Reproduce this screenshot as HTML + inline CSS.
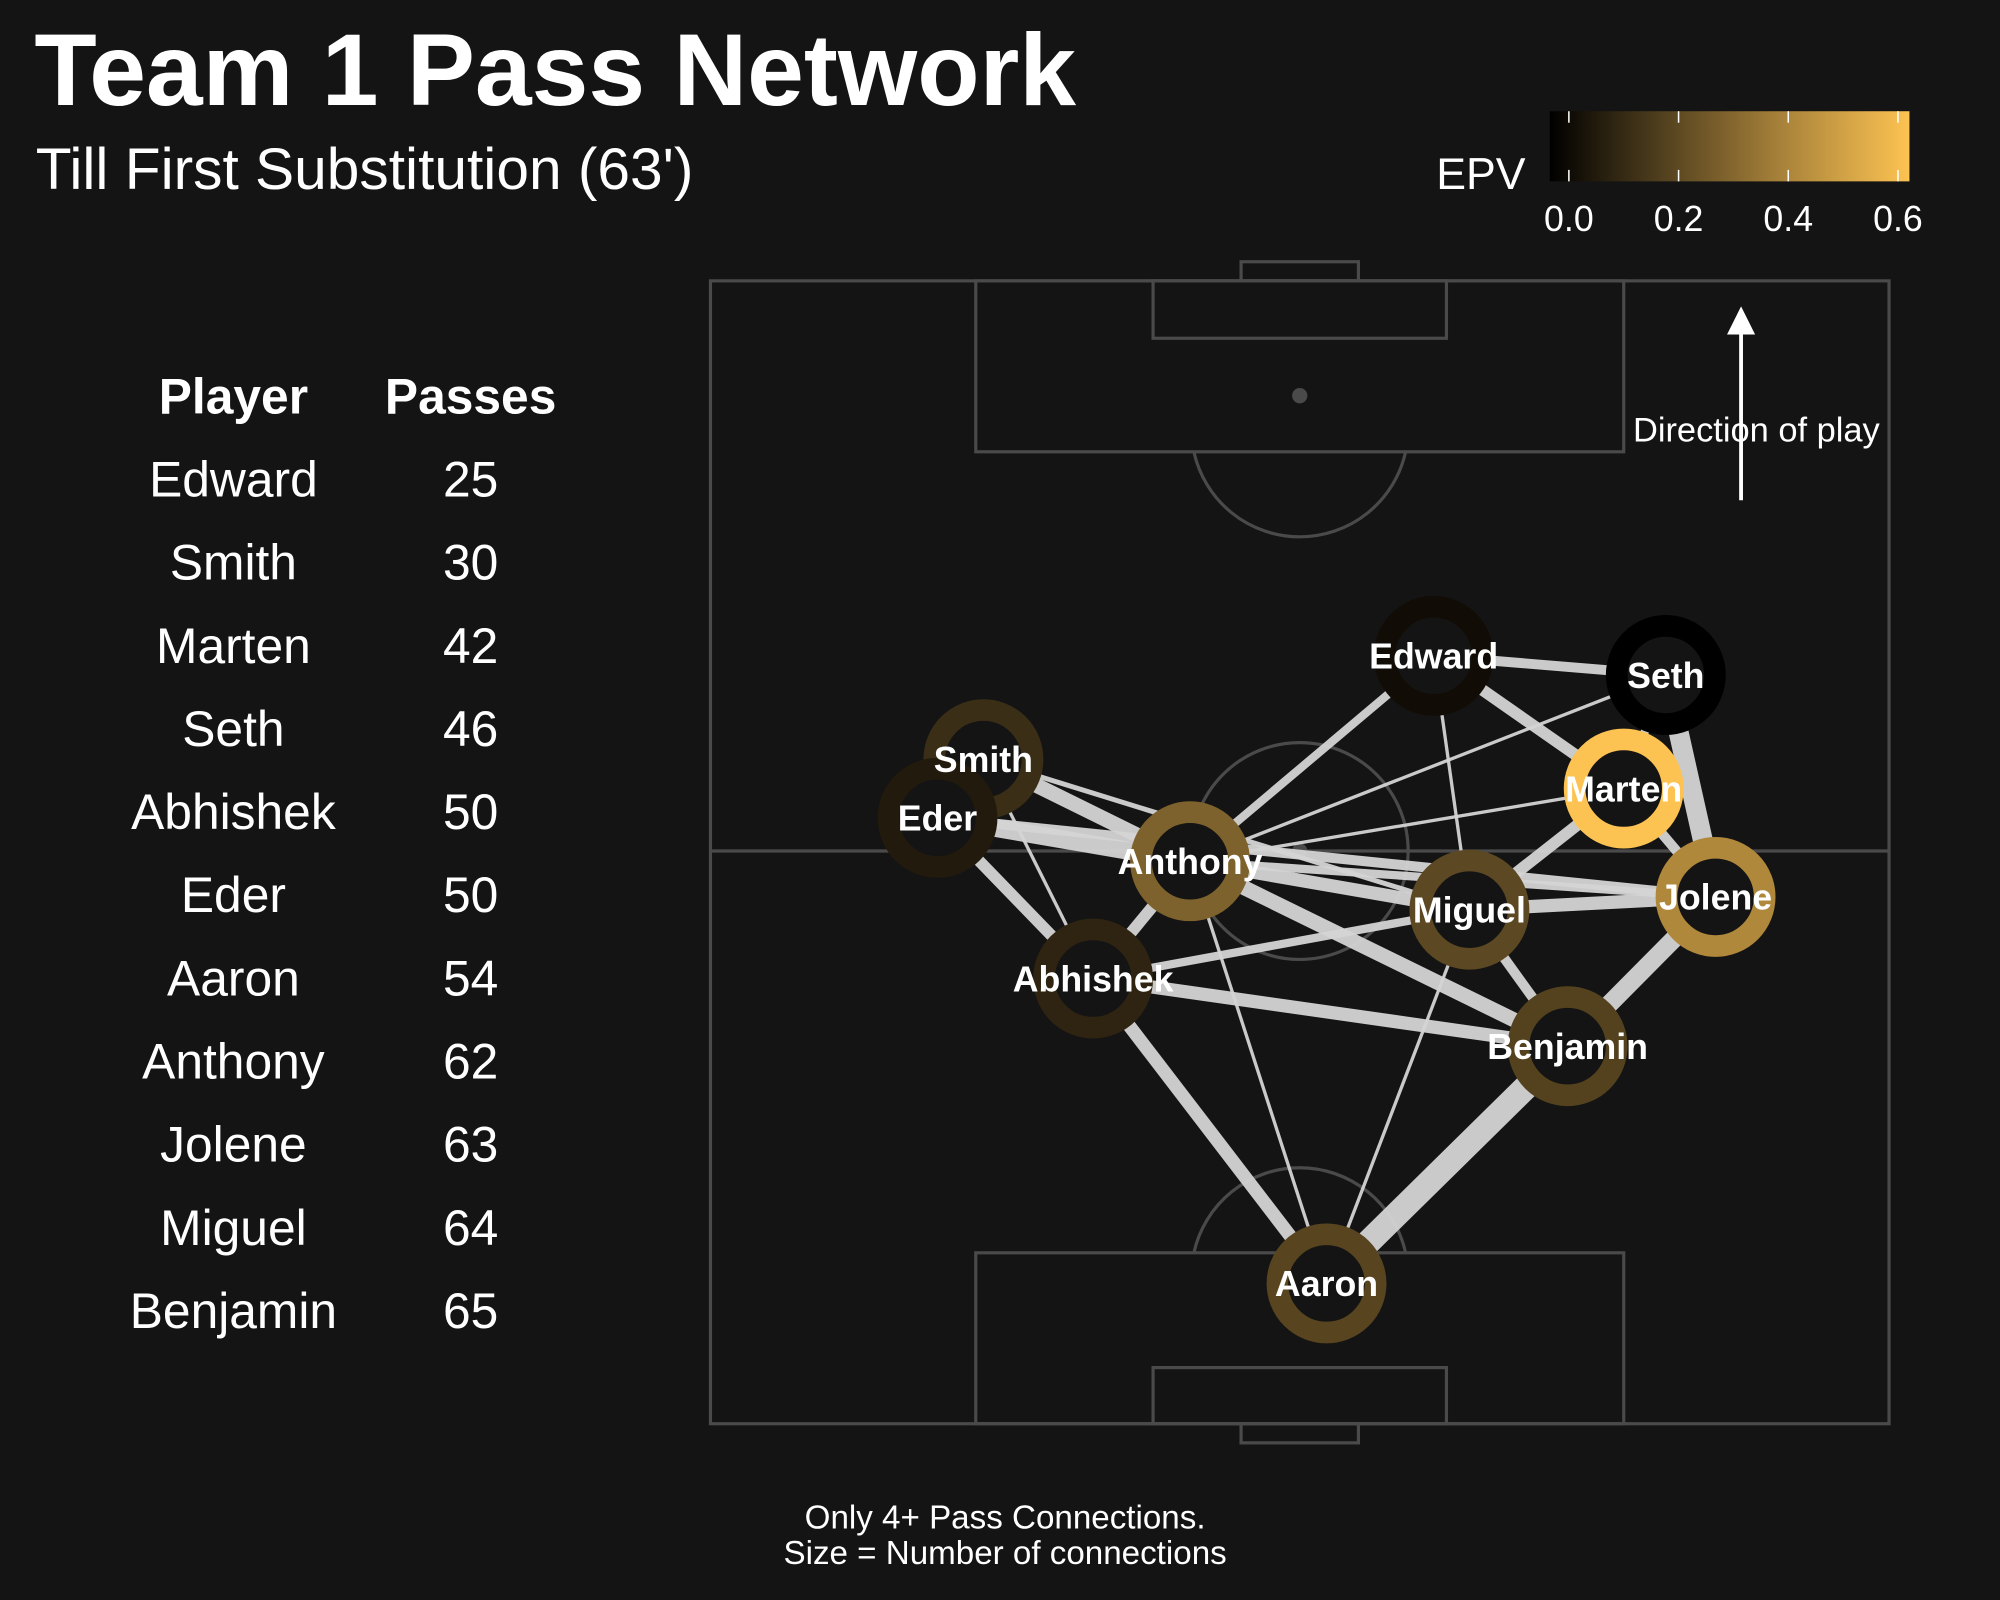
<!DOCTYPE html>
<html><head><meta charset="utf-8">
<style>
html,body{margin:0;padding:0;background:#141414;}
svg{display:block;font-family:"Liberation Sans",Arial,sans-serif;}
</style></head>
<body>
<svg id="chart" width="2000" height="1600" viewBox="0 0 1568 1254" xmlns="http://www.w3.org/2000/svg">
<defs>
<linearGradient id="cbar" x1="0" x2="1" y1="0" y2="0">
<stop offset="0" stop-color="#000000"/>
<stop offset="0.323" stop-color="#54421f"/>
<stop offset="0.645" stop-color="#a8823a"/>
<stop offset="1" stop-color="#fdc352"/>
</linearGradient>
</defs>
<rect width="1568" height="1254" fill="#141414"/>
<text x="27" y="82" fill="#fff" font-size="80" font-weight="bold">Team 1 Pass Network</text>
<text x="28" y="148" fill="#fff" font-size="46">Till First Substitution (63')</text>

<g>
<text x="1196" y="148" fill="#fff" font-size="35" text-anchor="end">EPV</text>
<rect x="1215" y="87" width="282" height="55" fill="url(#cbar)"/>
<g id="cticks"></g>
</g>

<g fill="none" stroke="#4a4a4a" stroke-width="2.5">
<rect x="557" y="220" width="924" height="896"/>
<line x1="557" y1="667" x2="1481" y2="667"/>
<circle cx="1019" cy="667" r="85"/>
<rect x="765" y="220" width="508" height="134"/>
<rect x="904" y="220" width="230" height="45"/>
<rect x="973" y="205" width="92" height="15"/>
<path d="M 936 354 A 85 85 0 0 0 1102 354"/>
<rect x="765" y="982" width="508" height="134"/>
<rect x="904" y="1072" width="230" height="44"/>
<rect x="973" y="1116" width="92" height="15"/>
<path d="M 936 982 A 85 85 0 0 1 1102 982"/>
<circle cx="1019" cy="310" r="6" fill="#4a4a4a" stroke="none"/>
<circle cx="1019" cy="667" r="6" fill="#4a4a4a" stroke="none"/>
</g>

<g>
<line x1="1365" y1="392" x2="1365" y2="258" stroke="#fff" stroke-width="3"/>
<polygon points="1354,262 1376,262 1365,240" fill="#fff"/>
<text x="1377" y="346" fill="#fff" font-size="27" text-anchor="middle">Direction of play</text>
</g>

<g id="edges"></g>
<g id="nodes"></g>

<g id="table">
<text x="183" y="324" fill="#fff" font-size="39" font-weight="bold" text-anchor="middle">Player</text>
<text x="369" y="324" fill="#fff" font-size="39" font-weight="bold" text-anchor="middle">Passes</text>
</g>

<text x="788" y="1198" fill="#fff" font-size="26" text-anchor="middle">Only 4+ Pass Connections.</text>
<text x="788" y="1226" fill="#fff" font-size="26" text-anchor="middle">Size = Number of connections</text>
</svg>
<script>
const players = ["Edward","Seth","Smith","Eder","Marten","Anthony","Miguel","Jolene","Abhishek","Benjamin","Aaron"];
const posX = [1124,1306,771,735,1273,933,1152,1345,857,1229,1040];
const posY = [514,529,595,641,618,675,713,703,767,820,1006];
const epv = [0.04,0.0,0.14,0.08,0.62,0.30,0.22,0.42,0.11,0.20,0.21];
const edgeFrom = ["Edward","Edward","Edward","Edward","Seth","Seth","Seth","Smith","Smith","Smith","Eder","Eder","Eder","Anthony","Anthony","Anthony","Anthony","Anthony","Anthony","Miguel","Miguel","Miguel","Miguel","Miguel","Abhishek","Abhishek","Benjamin","Benjamin","Marten"];
const edgeTo = ["Seth","Marten","Anthony","Miguel","Anthony","Jolene","Marten","Anthony","Abhishek","Miguel","Anthony","Abhishek","Jolene","Miguel","Benjamin","Abhishek","Aaron","Jolene","Marten","Marten","Jolene","Benjamin","Abhishek","Aaron","Benjamin","Aaron","Aaron","Jolene","Jolene"];
const edgeCount = [6,7,5,2,2,12,5,9,2,3,11,7,6,8,9,7,2,5,2,7,8,6,5,2,8,8,15,11,6];
const tableNames = ["Edward","Smith","Marten","Seth","Abhishek","Eder","Aaron","Anthony","Jolene","Miguel","Benjamin"];
const tablePasses = [25,30,42,46,50,50,54,62,63,64,65];
const cbTicks = [0.0,0.2,0.4,0.6];

const NS="http://www.w3.org/2000/svg";
const stops=[[0,[0,0,0]],[0.2,[84,66,31]],[0.4,[168,130,58]],[0.62,[253,195,82]]];
function cmap(v){
  for(let i=1;i<stops.length;i++){
    if(v<=stops[i][0]){const a=stops[i-1],b=stops[i];const t=(v-a[0])/(b[0]-a[0]);
      return "rgb("+a[1].map((c,k)=>Math.round(c+(b[1][k]-c)*t)).join(",")+")";}
  }
  return "rgb(253,195,82)";
}
const cbX=v=>1230+v*430;
const wScale=c=>c*1.3;
function mk(tag,attrs,parent){const e=document.createElementNS(NS,tag);for(const k in attrs)e.setAttribute(k,attrs[k]);parent.appendChild(e);return e;}

const ct=document.getElementById("cticks");
cbTicks.forEach(v=>{
  const l=mk("line",{x1:cbX(v),x2:cbX(v),y1:87,y2:96,stroke:"#fff","stroke-width":1.2},ct);
  
  
  const l2=mk("line",{x1:cbX(v),x2:cbX(v),y1:133,y2:142,stroke:"#fff","stroke-width":1.2},ct);
  
  
  const t=mk("text",{x:cbX(v),y:181,fill:"#fff","font-size":28,"text-anchor":"middle"},ct);
  t.textContent=v.toFixed(1);
  
  
});

const eg=document.getElementById("edges");
edgeFrom.forEach((f,i)=>{
  const a=players.indexOf(f),b=players.indexOf(edgeTo[i]);
  const l=mk("line",{x1:posX[a],y1:posY[a],x2:posX[b],y2:posY[b],stroke:"#d4d4d4","stroke-opacity":0.95,"stroke-width":wScale(edgeCount[i])},eg);
  
  
});
const ng=document.getElementById("nodes");
players.forEach((p,i)=>{
  const c=mk("circle",{cx:posX[i],cy:posY[i],r:38.5,fill:"#141414",stroke:cmap(epv[i]),"stroke-width":17},ng);
  
  
});
players.forEach((p,i)=>{
  const t=mk("text",{x:posX[i],y:posY[i]+10,fill:"#fff","font-size":28,"font-weight":"bold","text-anchor":"middle"},ng);
  t.textContent=p;
  
  
});
const tb=document.getElementById("table");
tableNames.forEach((n,i)=>{
  const y=389+i*65.2;
  const a=mk("text",{x:183,y:y,fill:"#fff","font-size":39,"text-anchor":"middle"},tb);
  a.textContent=n;
  
  
  const b=mk("text",{x:369,y:y,fill:"#fff","font-size":39,"text-anchor":"middle"},tb);
  b.textContent=tablePasses[i];
  
  
});
</script>
</body></html>
